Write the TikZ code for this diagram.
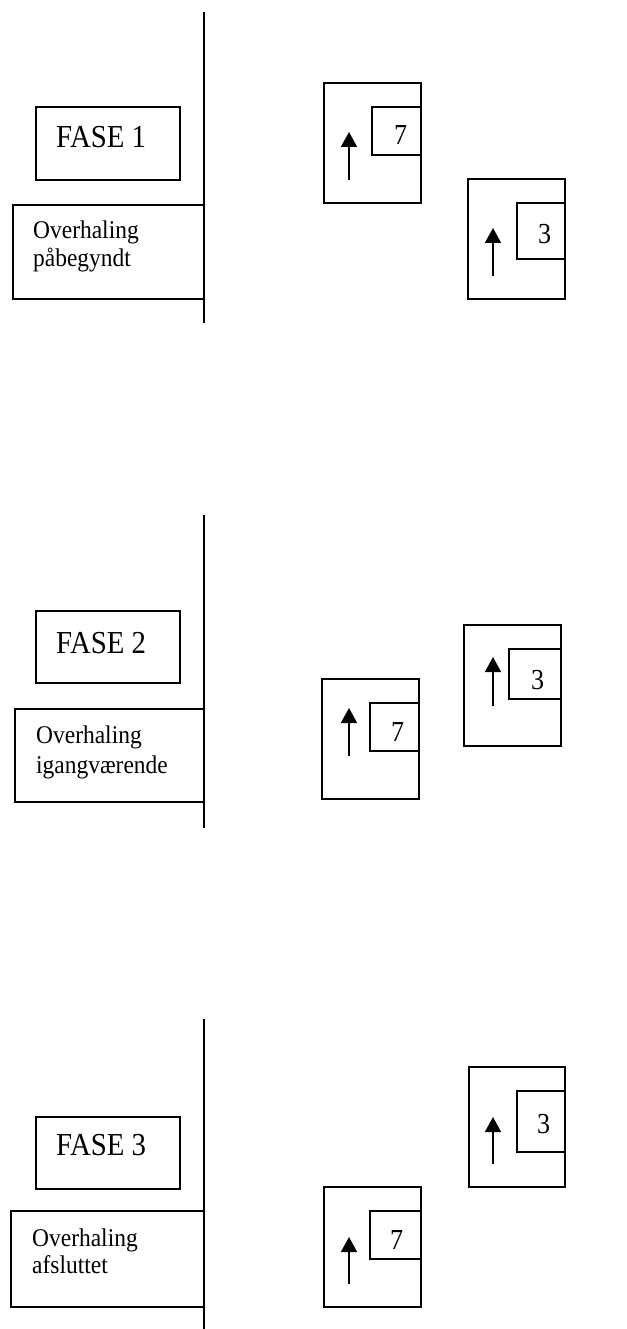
\documentclass[tikz,border=0pt]{standalone}
\usepackage{fontspec}
\setmainfont{Liberation Serif}
\newfontfamily\condfont[FakeStretch=0.9]{Liberation Serif}
\newfontfamily\condsmall[FakeStretch=0.92]{Liberation Serif}
\usetikzlibrary{arrows.meta}
\newcommand{\bx}[5]{\node[box, minimum width={(#4-#2)*1pt}, minimum height={(#5-#3)*1pt}] (#1) at (#2,#3) {};}
\begin{document}
\begin{tikzpicture}[x=1pt,y=-1pt,
  box/.style={draw, line width=1.3pt, inner sep=0pt, outer sep=0pt, anchor=north west},
  big/.style={inner sep=0pt, anchor=base west, font=\condfont\fontsize{32}{36}\selectfont},
  num/.style={inner sep=0pt, anchor=base west, font=\condfont\fontsize{29}{33}\selectfont},
  small/.style={inner sep=0pt, anchor=base west, align=left, font=\condsmall\fontsize{25.5}{28}\selectfont},
  upar/.style={line width=1.4pt, -{Triangle[width=16pt,length=15pt]}},
  divider/.style={line width=1.8pt}]
\useasboundingbox (0,0) rectangle (626,1329);

% ---------------- Phase 1 ----------------
\coordinate (l1a) at (204,12);
\coordinate (l1b) at (204,323);
\draw[divider] (l1a) -- (l1b);
\bx{fase1}{36}{107}{180}{180}
\node[big] (t1) at (56,148) {FASE 1};
\bx{ov1}{13}{205}{204}{299}
\node[small] (o1a) at (33,239) {Overhaling};
\node[small] (o1b) at (33,267) {påbegyndt};

\bx{a1}{324}{83}{421}{203}
\bx{a1i}{372}{107}{421}{155}
\node[num] (n7a) at (394,145) {7};
\coordinate (a1s) at (349,180);
\coordinate (a1e) at (349,132);
\draw[upar] (a1s) -- (a1e);

\bx{b1}{468}{179}{565}{299}
\bx{b1i}{517}{203}{565}{259}
\node[num] (n3a) at (538,244) {3};
\coordinate (b1s) at (493,276);
\coordinate (b1e) at (493,228);
\draw[upar] (b1s) -- (b1e);

% ---------------- Phase 2 ----------------
\coordinate (l2a) at (204,515);
\coordinate (l2b) at (204,828);
\draw[divider] (l2a) -- (l2b);
\bx{fase2}{36}{611}{180}{683}
\node[big] (t2) at (56,653) {FASE 2};
\bx{ov2}{15}{709}{204}{802}
\node[small] (o2a) at (36,743) {Overhaling};
\node[small] (o2b) at (36,773) {igangværende};

\bx{a2}{322}{679}{419}{799}
\bx{a2i}{370}{703}{419}{751}
\node[num] (n7b) at (391,741) {7};
\coordinate (a2s) at (349,756);
\coordinate (a2e) at (349,708);
\draw[upar] (a2s) -- (a2e);

\bx{b2}{464}{625}{561}{746}
\bx{b2i}{509}{649}{561}{699}
\node[num] (n3b) at (531,689) {3};
\coordinate (b2s) at (493,706);
\coordinate (b2e) at (493,657);
\draw[upar] (b2s) -- (b2e);

% ---------------- Phase 3 ----------------
\coordinate (l3a) at (204,1019);
\coordinate (l3b) at (204,1329);
\draw[divider] (l3a) -- (l3b);
\bx{fase3}{36}{1117}{180}{1189}
\node[big] (t3) at (56,1155) {FASE 3};
\bx{ov3}{11}{1211}{204}{1307}
\node[small] (o3a) at (32,1246) {Overhaling};
\node[small] (o3b) at (32,1273) {afsluttet};

\bx{a3}{324}{1187}{421}{1307}
\bx{a3i}{370}{1211}{421}{1259}
\node[num] (n7c) at (390,1249) {7};
\coordinate (a3s) at (349,1284);
\coordinate (a3e) at (349,1237);
\draw[upar] (a3s) -- (a3e);

\bx{b3}{469}{1067}{565}{1187}
\bx{b3i}{517}{1091}{565}{1152}
\node[num] (n3c) at (537,1133) {3};
\coordinate (b3s) at (493,1164);
\coordinate (b3e) at (493,1117);
\draw[upar] (b3s) -- (b3e);
\end{tikzpicture}
\end{document}
